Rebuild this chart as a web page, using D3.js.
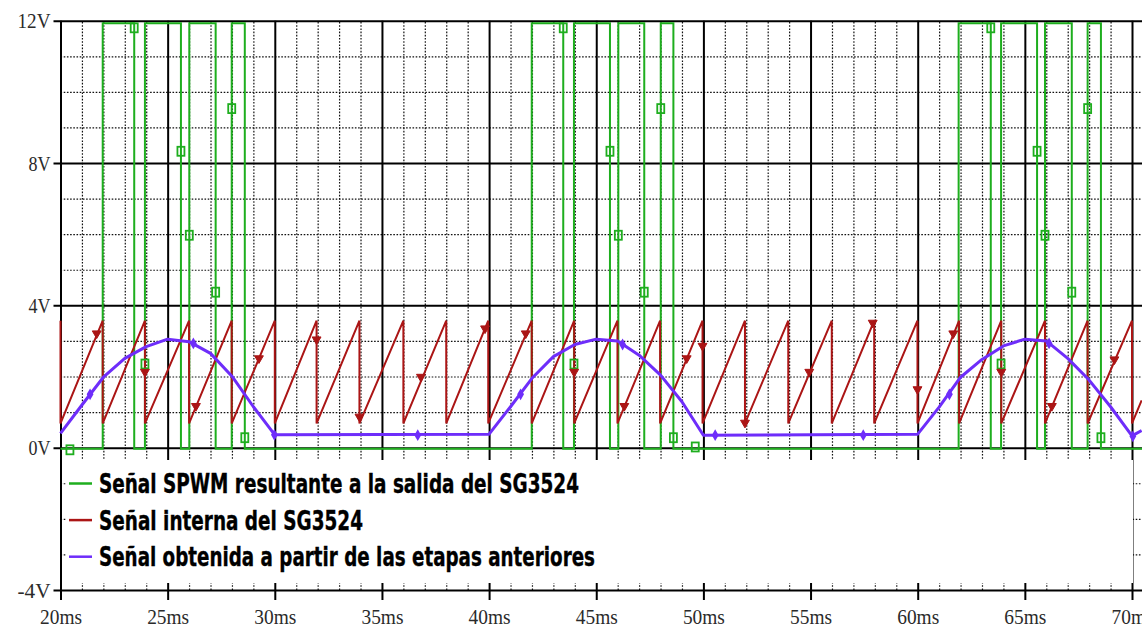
<!DOCTYPE html>
<html>
<head>
<meta charset="utf-8">
<script src="https://cdn.jsdelivr.net/npm/d3@7"></script>
<style>
  body { margin: 0; background: #fff; }
  svg { display: block; }
</style>
</head>
<body>
<div id="chart"></div>
<script>
// 1: DATA
const xMajorTicks = [20, 25, 30, 35, 40, 45, 50, 55, 60, 65, 70];
const xTickLabels = ["20ms", "25ms", "30ms", "35ms", "40ms", "45ms", "50ms", "55ms", "60ms", "65ms", "70ms"];
const yMajorTicks = [12, 8, 4, 0, -4];
const yTickLabels = ["12V", "8V", "4V", "0V", "-4V"];

const seriesNames = [
    "Señal SPWM resultante a la salida del SG3524",
    "Señal interna del SG3524",
    "Señal obtenida a partir de las etapas anteriores"
];

// green: SPWM output, edges in ms
const greenRise = [21.97, 23.94, 26.01, 27.99, 41.99, 43.96, 46.03, 48.01, 61.91, 63.89, 65.94, 67.93];
const greenFall = [23.44, 25.62, 27.24, 28.60, 43.46, 45.64, 47.24, 48.60, 63.41, 65.57, 67.19, 68.55];
const greenHigh = 11.93;
const greenLow = -0.03;
const greenMarkT = [20.44, 23.44, 23.94, 25.62, 26.01, 27.24, 27.99, 28.60, 43.46, 43.96, 45.64, 46.03, 47.24, 48.01, 48.60, 49.62, 63.41, 63.89, 65.57, 65.94, 67.19, 67.93, 68.55];
const greenMarkV = [-0.06, 11.8, 2.35, 8.33, 5.97, 4.37, 9.53, 0.28, 11.8, 2.35, 8.33, 5.97, 4.37, 9.53, 0.28, 0.02, 11.8, 2.35, 8.33, 5.97, 4.37, 9.53, 0.28];

// red: internal sawtooth, reset instants in ms
const redReset = [20.0, 21.97, 23.94, 26.0, 27.99, 30.0, 31.95, 33.95, 36.0, 38.0, 39.96, 41.99, 43.97, 45.99, 47.98, 49.96, 51.94, 53.96, 55.99, 57.97, 59.99, 61.93, 63.9, 65.94, 67.93, 70.0];
const redPeak = 3.57;
const redFloor = 0.68;
const redTail = [70.45, 1.33];
const redMarkT = [21.69, 23.94, 26.32, 29.26, 31.95, 33.95, 36.82, 39.81, 41.71, 43.97, 46.31, 49.22, 49.96, 51.94, 54.94, 57.9, 59.99, 61.66, 63.9, 66.26, 69.18];
const redMarkV = [3.21, 2.13, 1.17, 2.51, 3.04, 0.87, 1.99, 3.35, 3.21, 2.13, 1.17, 2.51, 2.86, 0.70, 2.13, 3.51, 1.64, 3.21, 2.13, 1.17, 2.48];

// purple: rectified sine from previous stages
const purpleT = [20, 21, 22, 23, 24, 25, 26, 27, 28, 29, 30,
                 40, 41, 42, 43, 44, 45, 46, 47, 48, 49, 50,
                 60, 61, 62, 63, 64, 65, 66, 67, 68, 69, 70, 70.45];
const purpleV = [0.40, 1.20, 1.98, 2.51, 2.84, 3.05, 2.98, 2.65, 2.01, 1.15, 0.36,
                 0.38, 1.15, 1.95, 2.56, 2.90, 3.05, 3.00, 2.60, 2.04, 1.29, 0.35,
                 0.38, 1.14, 1.98, 2.48, 2.86, 3.05, 3.00, 2.51, 1.90, 1.15, 0.33, 0.48];
const purpleMarkT = [21.38, 26.2, 29.98, 36.67, 41.47, 46.23, 50.55, 57.46, 61.48, 66.13, 70.04];
const purpleMarkV = [1.5, 2.93, 0.36, 0.35, 1.5, 2.9, 0.35, 0.35, 1.5, 2.93, 0.32];

// 2: LAYOUT
const W = 1142, H = 630;
const colors = ["#1eae1e", "#ab1515", "#6e2dfa"];
const legendTextWidth = [480, 264, 496];

const svg = d3.select("#chart").append("svg")
    .attr("width", W)
    .attr("height", H)
    .style("background", "#fff");

const x = d3.scaleLinear().domain([20, 70]).range([60.5, 1132]);
const y = d3.scaleLinear().domain([-4, 12]).range([590, 20.7]);

const xMinor = d3.range(20, 71).filter(d => d % 5 !== 0);
const yMinor = d3.range(-4, 13).filter(d => d % 4 !== 0);

// 3: GRID
// minor dotted verticals
svg.append("g")
    .attr("transform", `translate(0,${y(-4)})`)
    .call(d3.axisBottom(x).tickValues(xMinor).tickSize(-(y(-4) - y(12))).tickFormat(""))
    .call(g => g.select(".domain").remove())
    .call(g => g.selectAll("line")
        .attr("stroke", "#111").attr("stroke-width", 1.2).attr("stroke-dasharray", "1.6,1.6"));

// minor dotted horizontals
svg.append("g")
    .attr("transform", `translate(${x(20)},0)`)
    .call(d3.axisLeft(y).tickValues(yMinor).tickSize(-(W - x(20))).tickFormat(""))
    .call(g => g.select(".domain").remove())
    .call(g => g.selectAll("line")
        .attr("stroke", "#111").attr("stroke-width", 1.2).attr("stroke-dasharray", "1.6,1.6"));

// major solid verticals (run 10px below the bottom axis as ticks)
svg.append("g")
    .attr("transform", `translate(0,${y(-4) + 10})`)
    .call(d3.axisBottom(x).tickValues(xMajorTicks).tickSize(-(y(-4) + 10 - y(12))).tickFormat(""))
    .call(g => g.select(".domain").remove())
    .call(g => g.selectAll("line").attr("stroke", "#000").attr("stroke-width", 2));

// major solid horizontals (stick out left as ticks)
svg.append("g")
    .attr("transform", `translate(${x(20) - 7},0)`)
    .call(d3.axisLeft(y).tickValues(yMajorTicks).tickSize(-(W - x(20) + 7)).tickFormat(""))
    .call(g => g.select(".domain").remove())
    .call(g => g.selectAll("line").attr("stroke", "#000").attr("stroke-width", 2));

// white box behind the legend hides the grid under 0V
svg.append("rect")
    .attr("x", 66)
    .attr("y", 460)
    .attr("width", 1133 - 66)
    .attr("height", 583 - 460)
    .attr("fill", "#fff");

// 4: TICK LABELS
const tickFont = "'Liberation Serif', 'DejaVu Serif', serif";

svg.append("g")
    .attr("transform", `translate(${x(20) - 8},0)`)
    .call(d3.axisLeft(y).tickValues(yMajorTicks).tickSize(0).tickPadding(2)
        .tickFormat((d, i) => yTickLabels[i]))
    .call(g => g.select(".domain").remove())
    .call(g => g.selectAll("text")
        .attr("font-family", tickFont)
        .attr("font-size", 22)
        .attr("fill", "#2a2a2a")
        .attr("textLength", d => 11 * yTickLabels[yMajorTicks.indexOf(d)].length)
        .attr("lengthAdjust", "spacingAndGlyphs"));

svg.append("g")
    .attr("transform", `translate(0,${y(-4) + 10})`)
    .call(d3.axisBottom(x).tickValues(xMajorTicks).tickSize(0).tickPadding(9)
        .tickFormat((d, i) => xTickLabels[i]))
    .call(g => g.select(".domain").remove())
    .call(g => g.selectAll("text")
        .attr("font-family", tickFont)
        .attr("font-size", 21)
        .attr("fill", "#2a2a2a")
        .attr("textLength", 42)
        .attr("lengthAdjust", "spacingAndGlyphs"));

// 5: TRACES
const line = d3.line()
    .x(d => x(d[0]))
    .y(d => y(d[1]));

const plot = svg.append("g");

// green square wave
const greenPts = [[20, greenLow]];
greenRise.forEach((t, i) => {
    greenPts.push([t, greenLow], [t, greenHigh], [greenFall[i], greenHigh], [greenFall[i], greenLow]);
});
greenPts.push([70.5, greenLow]);

plot.append("path")
    .attr("d", line(greenPts))
    .attr("fill", "none")
    .attr("stroke", colors[0])
    .attr("stroke-width", 2);

// red sawtooth
const redPts = [];
redReset.forEach(t => redPts.push([t, redPeak], [t, redFloor]));
redPts.push(redTail);

plot.append("path")
    .attr("d", line(redPts))
    .attr("fill", "none")
    .attr("stroke", colors[1])
    .attr("stroke-width", 2);

// purple sine
plot.append("path")
    .attr("d", line(purpleT.map((t, i) => [t, purpleV[i]])))
    .attr("fill", "none")
    .attr("stroke", colors[2])
    .attr("stroke-width", 3)
    .attr("stroke-linejoin", "round");

// 6: MARKERS
plot.selectAll(".gmark")
    .data(greenMarkT.map((t, i) => [t, greenMarkV[i]]))
    .join("rect")
    .attr("class", "gmark")
    .attr("x", d => x(d[0]) - 3.5)
    .attr("y", d => y(d[1]) - 4.5)
    .attr("width", 7)
    .attr("height", 9)
    .attr("fill", "none")
    .attr("stroke", colors[0])
    .attr("stroke-width", 1.8);

const tri = d3.symbol().type(d3.symbolTriangle).size(34);
plot.selectAll(".rmark")
    .data(redMarkT.map((t, i) => [t, redMarkV[i]]))
    .join("path")
    .attr("class", "rmark")
    .attr("d", tri)
    .attr("transform", d => `translate(${x(d[0])},${y(d[1])}) rotate(180)`)
    .attr("fill", colors[1])
    .attr("stroke", colors[1])
    .attr("stroke-width", 1);

const dia = d3.symbol().type(d3.symbolDiamond).size(40);
plot.selectAll(".pmark")
    .data(purpleMarkT.map((t, i) => [t, purpleMarkV[i]]))
    .join("path")
    .attr("class", "pmark")
    .attr("d", dia)
    .attr("transform", d => `translate(${x(d[0])},${y(d[1])})`)
    .attr("fill", colors[2]);

// 7: LEGEND
const legend = svg.selectAll(".legend")
    .data(seriesNames)
    .join("g")
    .attr("class", "legend")
    .attr("transform", (d, i) => `translate(0,${483.5 + i * 36.6})`);

legend.append("line")
    .attr("x1", 69)
    .attr("x2", 92)
    .attr("stroke", (d, i) => colors[i])
    .attr("stroke-width", 2.5);

legend.append("text")
    .attr("x", 99)
    .attr("y", 9.5)
    .attr("font-family", "'DejaVu Sans', Verdana, sans-serif")
    .attr("font-weight", "bold")
    .attr("font-size", 27)
    .attr("fill", "#000")
    .attr("stroke", "#000")
    .attr("stroke-width", 0.4)
    .attr("textLength", (d, i) => legendTextWidth[i])
    .attr("lengthAdjust", "spacingAndGlyphs")
    .text(d => d);
</script>
</body>
</html>
